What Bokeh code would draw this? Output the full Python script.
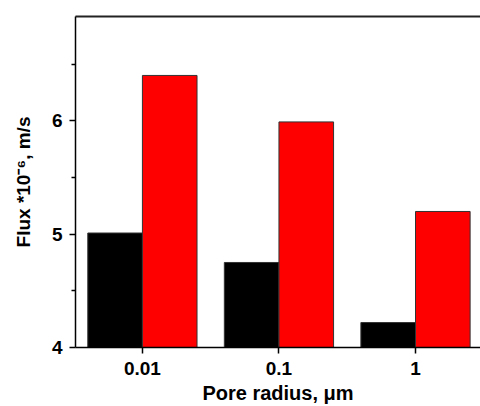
from bokeh.plotting import figure
from bokeh.models import ColumnDataSource, Range1d, FixedTicker, LinearAxis
from bokeh.transform import dodge
from bokeh.embed import file_html
from bokeh.resources import INLINE

categories = ["0.01", "0.1", "1"]
series_black = [5.01, 4.75, 4.22]
series_red = [6.40, 5.99, 5.20]
y_ticks = [4, 5, 6]
y_minor = [4.5, 5.5, 6.5]

idx = list(range(len(categories)))
src = ColumnDataSource(dict(idx=idx, black=series_black, red=series_red))

FONT = "Liberation Sans"

p = figure(width=480, height=406, output_backend="svg", toolbar_location=None,
           x_range=Range1d(-0.49, 2.476), y_range=Range1d(4, 6.92),
           min_border_left=75, min_border_right=0, min_border_top=16, min_border_bottom=59)
p.outline_line_color = None
p.grid.visible = False
p.background_fill_color = "white"

p.vbar(x=dodge("idx", -0.2, range=p.x_range), top="black", width=0.4, source=src,
       fill_color="black", line_color="#333333", line_width=1)
p.vbar(x=dodge("idx", 0.2, range=p.x_range), top="red", width=0.4, source=src,
       fill_color="#FF0000", line_color="#333333", line_width=1)

# x axis
xa = p.xaxis[0]
xa.ticker = FixedTicker(ticks=idx)
xa.major_label_overrides = {i: c for i, c in zip(idx, categories)}
xa.axis_label = "Pore radius, μm"
# y axis
ya = p.yaxis[0]
ya.ticker = FixedTicker(ticks=y_ticks, minor_ticks=y_minor)
ya.axis_label = "Flux *10⁻⁶, m/s"

for ax in (xa, ya):
    ax.axis_line_color = "black"
    ax.axis_line_width = 1.5
    ax.major_tick_line_color = "black"
    ax.major_tick_line_width = 1.5
    ax.major_tick_in = 0
    ax.major_tick_out = 6
    ax.minor_tick_in = 0
    ax.minor_tick_out = 4
    ax.minor_tick_line_color = "black"
    ax.minor_tick_line_width = 1.5
    ax.major_label_text_font = FONT
    ax.major_label_text_font_style = "bold"
    ax.major_label_text_font_size = "19px"
    ax.major_label_text_color = "black"
    ax.axis_label_text_font = FONT
    ax.axis_label_text_font_style = "bold"
    ax.axis_label_text_color = "black"

xa.axis_label_text_font_size = "20px"
ya.axis_label_text_font_size = "19px"
xa.minor_tick_line_color = None
xa.major_label_standoff = 8
xa.axis_label_standoff = 4
ya.major_label_standoff = 7
ya.axis_label_standoff = 15

top_ax = LinearAxis(ticker=FixedTicker(ticks=[]), major_tick_out=0, major_tick_in=0,
                    minor_tick_out=0, minor_tick_in=0, major_label_text_font_size="0px",
                    axis_line_color="#222222", axis_line_width=2)
p.add_layout(top_ax, "above")

open("out.html", "w").write(file_html(p, INLINE))
